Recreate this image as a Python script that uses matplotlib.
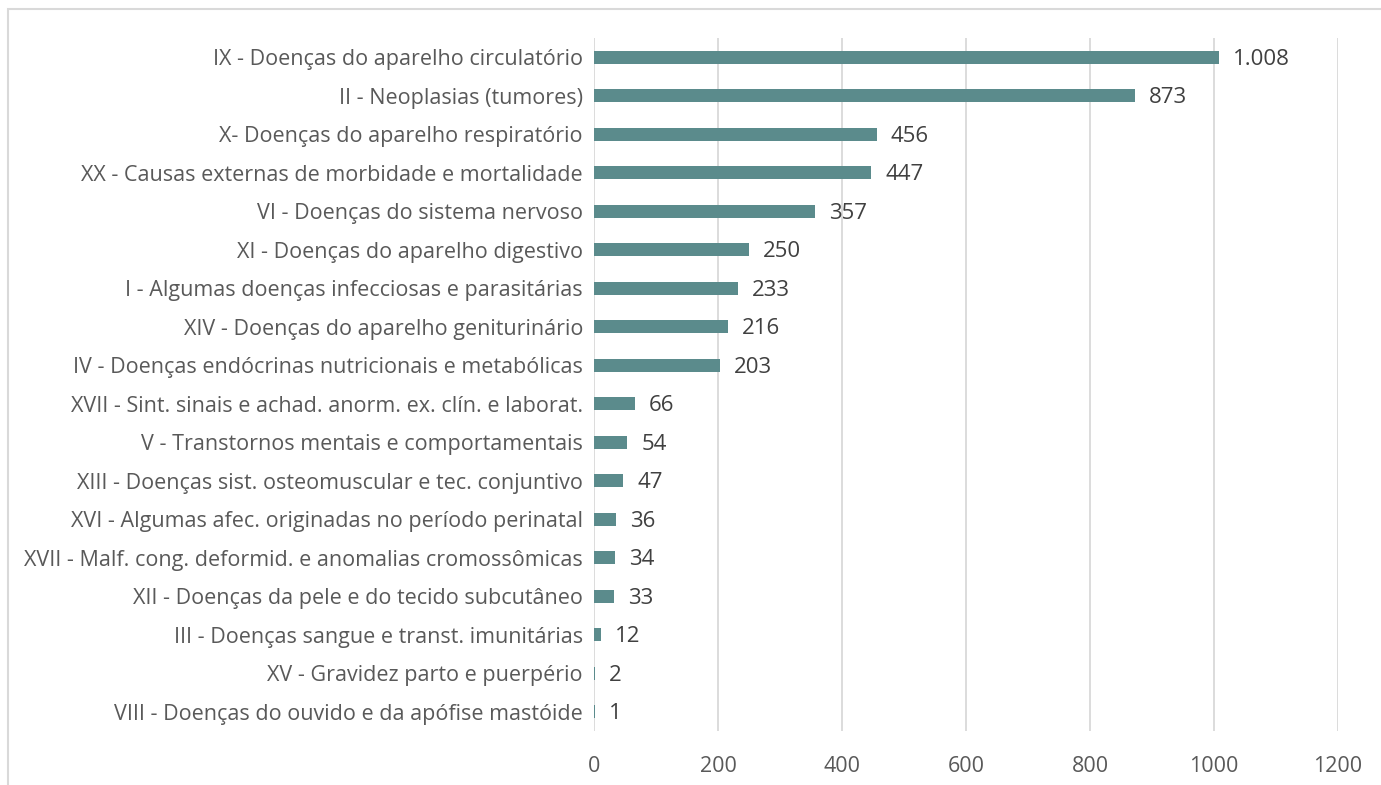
import matplotlib
matplotlib.use("Agg")
import matplotlib.pyplot as plt
from matplotlib.patches import Rectangle

categories = [
    "IX - Doenças do aparelho circulatório",
    "II - Neoplasias (tumores)",
    "X- Doenças do aparelho respiratório",
    "XX - Causas externas de morbidade e mortalidade",
    "VI - Doenças do sistema nervoso",
    "XI - Doenças do aparelho digestivo",
    "I - Algumas doenças infecciosas e parasitárias",
    "XIV - Doenças do aparelho geniturinário",
    "IV - Doenças endócrinas nutricionais e metabólicas",
    "XVII - Sint. sinais e achad. anorm. ex. clín. e laborat.",
    "V - Transtornos mentais e comportamentais",
    "XIII - Doenças sist. osteomuscular e tec. conjuntivo",
    "XVI - Algumas afec. originadas no período perinatal",
    "XVII - Malf. cong. deformid. e anomalias cromossômicas",
    "XII - Doenças da pele e do tecido subcutâneo",
    "III - Doenças sangue e transt. imunitárias",
    "XV - Gravidez parto e puerpério",
    "VIII - Doenças do ouvido e da apófise mastóide",
]
values = [1008, 873, 456, 447, 357, 250, 233, 216, 203, 66, 54, 47, 36, 34, 33, 12, 2, 1]
xticks = [0, 200, 400, 600, 800, 1000, 1200]

W, H = 1381, 785
fig = plt.figure(figsize=(W / 100, H / 100), dpi=100)
plt.rcParams['font.family'] = ['Open Sans', 'DejaVu Sans']

left, right, top, bottom = 594, 1338, 38, 731
ax = fig.add_axes([left / W, 1 - bottom / H, (right - left) / W, (bottom - top) / H])

bar_color = "#5B8B8C"
text_color = "#595959"
ypos = list(range(len(categories)))
ax.barh(ypos, values, height=0.34, color=bar_color, linewidth=0, zorder=3)
ax.set_ylim(len(categories) - 0.5, -0.5)
ax.set_xlim(0, 1200)
ax.set_yticks(ypos)
ax.set_yticklabels(categories, fontsize=15.5, color=text_color)
ax.set_xticks(xticks)
ax.set_xticklabels([str(t) for t in xticks], fontsize=15.5, color=text_color)
ax.tick_params(axis='y', length=0, pad=8)
ax.tick_params(axis='x', length=0, pad=18)
ax.grid(axis='x', color="#D9D9D9", linewidth=1.3, zorder=0)
for s in ax.spines.values():
    s.set_visible(False)

def fmt(v):
    return f"{v:,}".replace(",", ".")

for y, v in zip(ypos, values):
    ax.annotate(fmt(v), (v, y), xytext=(10, -1.5), textcoords='offset points',
                va='center', ha='left', fontsize=16, color="#404040")

# outer chart frame
fig.patches.append(Rectangle((8 / W, -0.1), 1.2, 1 - 9 / H + 0.1, transform=fig.transFigure,
                             fill=False, edgecolor="#D9D9D9", linewidth=1.5))

fig.savefig("out.png", dpi=100, facecolor="white")
